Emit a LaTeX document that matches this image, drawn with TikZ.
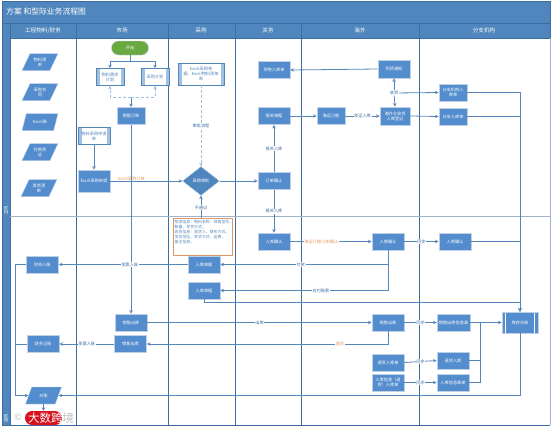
\documentclass[tikz,border=0pt]{standalone}
\usepackage{fontspec}
\setmainfont{Noto Sans CJK SC}
\usetikzlibrary{shapes.geometric, arrows.meta}
\definecolor{bandblue}{RGB}{79, 134, 189}
\definecolor{bandedge}{RGB}{62, 108, 160}
\definecolor{boxblue}{RGB}{84, 141, 205}
\definecolor{boxedge}{RGB}{190, 208, 230}
\definecolor{lineblue}{RGB}{84, 134, 186}
\definecolor{paleblue}{RGB}{160, 192, 224}
\definecolor{splitgray}{RGB}{158, 180, 204}
\definecolor{noteorange}{RGB}{226, 150, 100}
\definecolor{startgreen}{RGB}{106, 168, 64}
\definecolor{sealred}{RGB}{214, 16, 28}
\tikzset{
  proc/.style={rectangle, fill=boxblue, draw=boxedge, line width=0.9pt, minimum width=32pt, minimum height=17pt, inner sep=0pt, align=center, text=white, font=\fontsize{4.2}{5.2}\selectfont},
  wideproc/.style={proc, minimum width=28pt},
  subproc/.style={rectangle, fill=white, draw=lineblue, line width=0.7pt, minimum width=#1, minimum height=17pt, inner sep=0pt, align=center, text=lineblue, font=\fontsize{4.2}{5.2}\selectfont,
    path picture={\fill[paleblue] (path picture bounding box.north west) rectangle ([xshift=3.5pt]path picture bounding box.south west);
      \fill[paleblue] (path picture bounding box.north east) rectangle ([xshift=-3.5pt]path picture bounding box.south east);}},
  docform/.style={trapezium, trapezium left angle=60, trapezium right angle=120, trapezium stretches=true, fill=boxblue, draw=boxedge, line width=0.4pt, minimum width=36pt, minimum height=17pt, inner sep=0pt, align=center, text=white, font=\fontsize{4.2}{5}\selectfont},
  flow/.style={draw=lineblue, line width=0.8pt, -{Stealth[length=3.5pt,width=3.5pt]}},
  plain/.style={draw=lineblue, line width=0.8pt},
  dashflow/.style={draw=paleblue, line width=0.7pt, densely dashed, -{Stealth[length=3.5pt,width=3.5pt,fill=lineblue]}},
  tag/.style={fill=white, inner sep=0.6pt, text=bandedge, font=\fontsize{4.2}{5}\selectfont},
  warntag/.style={tag, text=noteorange},
  lane/.style={draw=bandedge, line width=0.9pt},
  head/.style={text=white, font=\fontsize{5.6}{7}\selectfont}
}
\begin{document}
\begin{tikzpicture}[x=1pt, y=-1pt]
  \useasboundingbox (0,0) rectangle (553,429);
  % frame and lanes
  \node[rectangle, fill=bandblue, draw=bandedge, minimum width=548pt, minimum height=22pt, inner sep=0pt] (titleband) at (276,12) {};
  \node[text=white, font=\fontsize{7.8}{9}\selectfont, anchor=west, inner sep=0pt] (titletext) at (6,12) {方案 和型际业务流程图};
  \node[rectangle, fill=bandblue, draw=bandedge, minimum width=540pt, minimum height=15pt, inner sep=0pt] (headband) at (280,30.5) {};
  \node[rectangle, fill=bandblue, draw=bandedge, minimum width=8pt, minimum height=402pt, inner sep=0pt] (sideband) at (6,224) {};
  \draw[lane] (76.5,23) -- (76.5,425);
  \draw[lane] (168,23) -- (168,425);
  \draw[lane] (235,23) -- (235,425);
  \draw[lane] (301,23) -- (301,425);
  \draw[lane] (419,23) -- (419,425);
  \draw[draw=bandedge, line width=0.9pt] (10,425) -- (550,425);
  \draw[draw=splitgray, line width=1pt] (550,38) -- (550,425);
  \draw[draw=splitgray, line width=1.3pt] (10,216.5) -- (550,216.5);
  \node[head] (headA) at (43,30.5) {工程物料/财务};
  \node[head] (headB) at (122,30.5) {市场};
  \node[head] (headC) at (201,30.5) {采购};
  \node[head] (headD) at (268,30.5) {关务};
  \node[head] (headE) at (360,30.5) {海外};
  \node[head] (headF) at (484,30.5) {分支机构};
  \node[text=white, rotate=90, font=\fontsize{4.4}{5}\selectfont] (sideA) at (6,210) {正向};
  \node[text=white, rotate=90, font=\fontsize{4.4}{5}\selectfont] (sideB) at (6,418) {逆向};

  % forms
  \node[docform] (formA) at (40,62) {物料清\\单};
  \node[docform] (formB) at (40,92) {采购合\\同};
  \node[docform] (formC) at (40,122) {Excel表};
  \node[docform] (formD) at (40,152) {付款凭\\证};
  \node[docform] (formE) at (39,188) {发货清\\单};

  % upper half
  \node[rectangle, rounded corners=7pt, fill=startgreen, draw=boxedge, minimum width=37pt, minimum height=14pt, inner sep=0pt, text=white, font=\fontsize{4.2}{5}\selectfont] (start) at (130,48) {开始};
  \node[subproc=28pt] (subA) at (110,77) {物料需求\\计划};
  \node[subproc=28pt] (subB) at (155,77) {采购计划};
  \node[proc, minimum width=28pt] (order) at (131,116) {销售订单};
  \node[subproc=32pt] (subC) at (94,136) {物料采购申请\\单};
  \node[proc, minimum height=22pt] (apply) at (94,181) {Excel采购申请};
  \node[subproc=46pt, minimum height=22pt] (subD) at (201,74) {Excel采购单\\据、Excel物料清单\\表};
  \node[diamond, fill=bandblue, draw=boxedge, line width=0.4pt, minimum width=37pt, minimum height=29pt, inner sep=0pt, aspect=1.3, text=white, font=\fontsize{4.2}{5}\selectfont] (check) at (201,181) {采购审批};
  \node[proc] (custA) at (274,70) {货物入库单};
  \node[proc] (custB) at (274,116) {报关单据};
  \node[proc] (custC) at (274,181) {订单确认};
  \node[wideproc] (seaA) at (331,116) {海运订舱};
  \node[proc, minimum height=18pt] (seaB) at (394,69) {到货通知};
  \node[proc, minimum width=30pt, minimum height=18pt] (seaC) at (395,116) {海外仓收货\\入库登记};
  \node[wideproc] (branchA) at (453,92.5) {分支机构入\\库单};
  \node[wideproc] (branchB) at (453,116.5) {分支入库单};

  % lower half
  \node[rectangle, fill=white, draw=noteorange, line width=0.9pt, minimum width=59pt, minimum height=37pt, inner sep=0pt, anchor=north west] (note) at (172.5,218) {};
  \node[anchor=north west, inner sep=0pt, align=left, text=lineblue, font=\fontsize{3.9}{5}\selectfont] (notetext) at (174.5,219.5) {物流信息：物料名称、规格型号、\\数量、发货方式；\\收货信息：收货人、联系方式、\\发货地址、发货方式、运费、\\备注信息。};
  \node[proc] (retA) at (274,241.5) {入库确认};
  \node[proc] (retB) at (388,241.5) {入库确认};
  \node[proc] (retC) at (455,241.5) {入库确认};
  \node[proc] (payA) at (204,264.5) {入库单据};
  \node[proc] (payB) at (204,290.5) {入库单据};
  \node[proc] (finA) at (42.5,264.5) {财务入账};
  \node[proc] (finB) at (43,344) {财务记账};
  \node[proc] (mktA) at (131,322.5) {销售出库};
  \node[proc] (mktB) at (130.5,344) {销售出库};
  \node[proc] (seaD) at (388,322.5) {销售出库};
  \node[proc, minimum width=33pt] (branchC) at (453.5,322.5) {销售出库信息表};
  \node[proc] (seaE) at (388,362.5) {退货入库单};
  \node[proc] (branchD) at (453,360.5) {退货入库};
  \node[proc] (seaF) at (388,382.5) {入库信息（退\\货）入库单};
  \node[proc] (branchE) at (453,382.5) {入库信息表单};
  \node[rectangle, fill=boxblue, draw=boxedge, line width=0.9pt, minimum width=36pt, minimum height=21pt, inner sep=0pt, text=white, font=\fontsize{4.2}{5}\selectfont,
    path picture={\fill[white] ([xshift=3pt]path picture bounding box.north west) rectangle ([xshift=4pt]path picture bounding box.south west);
      \fill[white] ([xshift=-3pt]path picture bounding box.north east) rectangle ([xshift=-4pt]path picture bounding box.south east);}] (stock) at (520,322.5) {库存台账};
  \node[docform] (ledger) at (43.5,395.5) {对账};
  \node[rectangle, rounded corners=7pt, fill=sealred, minimum width=37pt, minimum height=14pt, inner sep=0pt] (seal) at (43.5,418) {};
  \node[text=white, font=\fontsize{11.5}{12}\selectfont, anchor=west, inner sep=0pt] (sealtext) at (28,418) {大数跨\textcolor{black!25}{境}};
  \node[text=black!25, font=\fontsize{9}{10}\selectfont] (sealmark) at (18,417) {©};

  % junctions
  \coordinate (forktop) at (130,61);
  \coordinate (forklow) at (131,97);
  \coordinate (stockjoin) at (480,322.5);
  \coordinate (leftbus) at (15,395.5);
  \coordinate (paylow) at (520,302.5);

  % connectors upper half
  \draw[plain] (start.south) -- (forktop);
  \draw[flow] (forktop) -| (subA.north);
  \draw[flow] (forktop) -| (subB.north);
  \draw[flow] (forklow) -- (order.north);
  \draw[dashflow] (forklow) -| (subA.south);
  \draw[dashflow] (forklow) -| (subB.south);
  \draw[flow] (subC.south) -- (apply.north);
  \draw[flow] (apply.east) -- (check.west) node[pos=0.5, above=-0.5pt, warntag, fill=none, xshift=-15pt] (tagApply) {Excel采购订单};
  \draw[dashflow] (subD.south) -- (check.north) node[midway, tag] (tagPlan) {审批流程};
  \draw[flow] (check.east) -- (custC.west);
  \draw[flow] (note.north -| check.south) -- (check.south) node[pos=0.45, tag] (tagFail) {不通过};
  \draw[flow] (custC.north) -- (custB.south) node[pos=0.5, tag] (tagUp) {报关入库};
  \draw[flow] (custC.south) -- (retA.north) node[pos=0.5, tag] (tagDown) {报关入库};
  \draw[flow] (seaB.west) -- (custA.east);
  \draw[flow] (custB.east) -- (seaA.west);
  \draw[flow] (seaA.east) -- (seaC.west) node[midway, tag] (tagShip) {发运入库};
  \node[tag] (tagMerge) at (394,93) {收货};
  \draw[flow] (tagMerge) -- (seaB.south);
  \draw[flow] (tagMerge) -- (seaC.north);
  \draw[flow] (tagMerge) -- (branchA.west);
  \draw[flow] (seaC.east) -- (branchB.west);
  \draw[flow] (branchA.east) -| (stock.north);
  \draw[flow] (branchB.east) -| (stock.north);

  % connectors lower half
  \draw[flow] (order.south) -- (mktA.north);
  \draw[flow] (retA.east) -- (retB.west) node[pos=0.38, warntag] (tagRet) {海运订舱入库确认};
  \draw[flow] (retB.east) -- (retC.west) node[midway, tag] (tagRetB) {同步};
  \draw[flow] (retC.east) -| (stock.north);
  \draw[flow] (retB.south) |- (payA.east) node[pos=0.76, tag] (tagPayA) {付款};
  \draw[flow] (retB.south) |- (payB.east) node[pos=0.7, tag] (tagPayB) {应付账款};
  \draw[flow] (payA.west) -- (finA.east) node[pos=0.45, tag] (tagFinA) {发票入账};
  \draw[flow] (payB.south) |- (paylow) -- (stock.north);
  \draw[flow] (mktA.east) -- (seaD.west) node[pos=0.5, tag] (tagSale) {出库};
  \draw[flow] (seaD.south) |- (mktB.east) node[pos=0.6, warntag] (tagBack) {退货};
  \draw[flow] (mktB.west) -- (finB.east) node[midway, tag] (tagFinB) {发票入账};
  \draw[flow] (seaD.east) -- (branchC.west) node[midway, tag] (tagSync) {同步};
  \draw[flow] (branchC.east) -- (stock.west);
  \draw[flow] (seaE.east) -- (branchD.west) node[midway, tag] (tagSyncB) {同步};
  \draw[flow] (seaF.east) -- (branchE.west) node[midway, tag] (tagSyncC) {同步};
  \draw[plain] (branchD.east) -| (stockjoin);
  \draw[plain] (branchE.east) -| (stockjoin);
  \draw[flow] (stock.south) |- (ledger.east);
  \draw[plain] (finA.west) -| (leftbus);
  \draw[plain] (finB.west) -- (finB.west -| leftbus);
  \draw[flow] (leftbus) -- (ledger.west);
  \draw[flow] (ledger.south) -- (seal.north);
\end{tikzpicture}
\end{document}
